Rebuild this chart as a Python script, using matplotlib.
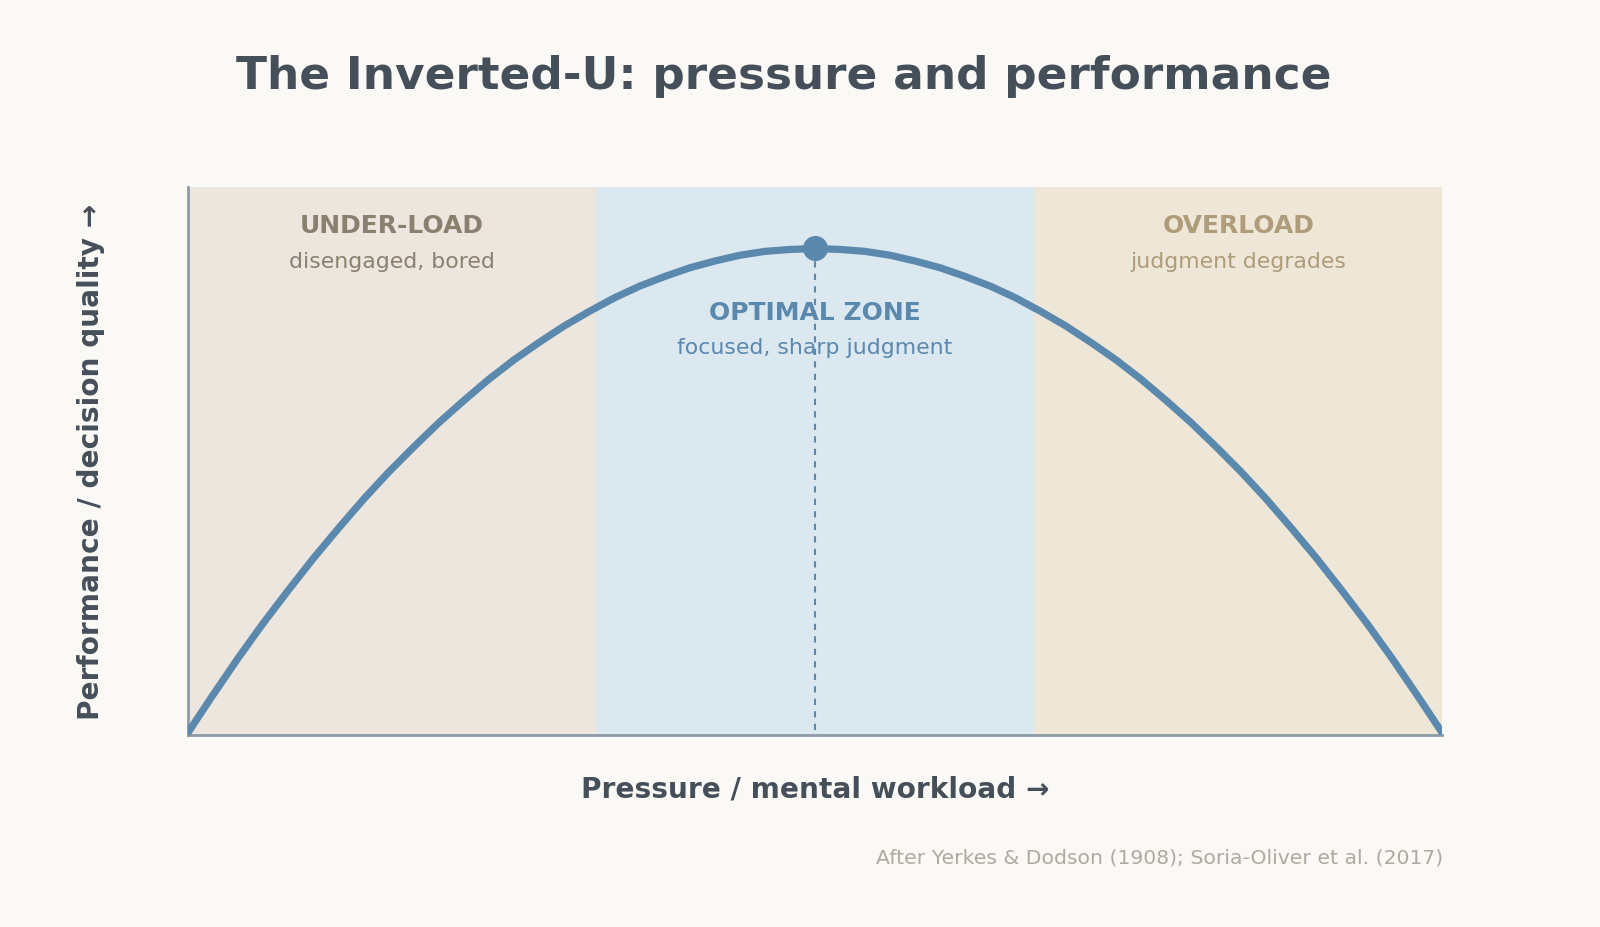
import matplotlib
matplotlib.use("Agg")
import matplotlib.pyplot as plt

# Data
pressure = [0, 2, 4, 6, 8, 10, 12, 14, 16, 18, 20, 22, 24, 26, 28, 30, 32, 34, 36, 38, 40,
            42, 44, 46, 48, 50, 52, 54, 56, 58, 60, 62, 64, 66, 68, 70, 72, 74, 76, 78, 80,
            82, 84, 86, 88, 90, 92, 94, 96, 98, 100]
performance = [0, 7.8, 15.4, 22.6, 29.4, 36, 42.2, 48.2, 53.8, 59, 64, 68.6, 73, 77, 80.6, 84,
               87, 89.8, 92.2, 94.2, 96, 97.4, 98.6, 99.4, 99.8, 100, 99.8, 99.4, 98.6, 97.4, 96,
               94.2, 92.2, 89.8, 87, 84, 80.6, 77, 73, 68.6, 64, 59, 53.8, 48.2, 42.2, 36,
               29.4, 22.6, 15.4, 7.8, 0]
zone_names = ["UNDER-LOAD", "OPTIMAL ZONE", "OVERLOAD"]
zone_notes = ["disengaged, bored", "focused, sharp judgment", "judgment degrades"]
zone_edges = [0, 32.5, 67.5, 100]
peak_x = 50
peak_y = 100

BG = "#FAF9F6"
zone_colors = ["#EDE6DE", "#DCE8F0", "#EEE7D7"]
zone_text_colors = ["#8A8070", "#5B88AD", "#AE9C7A"]
CURVE = "#5B88AD"
DARK = "#454F5A"
SPINE = "#8E9AA6"

fig = plt.figure(figsize=(16, 9.28), dpi=100, facecolor=BG)
ax = fig.add_axes([188/1600, 1-736/928, (1442-188)/1600, (736-188)/928])
ax.set_facecolor(BG)

for i in range(3):
    ax.axvspan(zone_edges[i], zone_edges[i+1], color=zone_colors[i], lw=0, zorder=0)

ax.plot(pressure, performance, color=CURVE, lw=5.2, solid_capstyle="round",
        solid_joinstyle="round", zorder=3)
ax.plot([peak_x, peak_x], [0.5, peak_y], color=CURVE, lw=1.5, ls=(0, (3, 3)), zorder=2)
ax.plot([peak_x], [peak_y], "o", color=CURVE, ms=17, zorder=4)

ax.set_xlim(0, 100)
ax.set_ylim(-0.5, 112.7)
ax.set_xticks([])
ax.set_yticks([])
for s in ["top", "right"]:
    ax.spines[s].set_visible(False)
for s in ["left", "bottom"]:
    ax.spines[s].set_color(SPINE)
    ax.spines[s].set_linewidth(2)

# zone labels
label_pos = [(0.931, 0.865), (0.772, 0.708), (0.931, 0.865)]
for i in range(3):
    cx = (zone_edges[i] + zone_edges[i+1]) / 2 / 100
    ty, sy = label_pos[i]
    ax.text(cx, ty, zone_names[i], transform=ax.transAxes, ha="center", va="center",
            fontsize=18, fontweight="bold", color=zone_text_colors[i], zorder=5)
    ax.text(cx, sy, zone_notes[i], transform=ax.transAxes, ha="center", va="center",
            fontsize=15.8, color=zone_text_colors[i], zorder=5)

fig.text(784/1600, 1-76/928, "The Inverted-U: pressure and performance", ha="center", va="center",
         fontsize=32.7, fontweight="bold", color=DARK)
fig.text(815/1600, 1-790/928, "Pressure / mental workload →", ha="center", va="center",
         fontsize=20.2, fontweight="bold", color=DARK)
fig.text(91/1600, 1-462/928, "Performance / decision quality →", ha="center", va="center",
         fontsize=20.2, fontweight="bold", color=DARK, rotation=90)
fig.text(1443/1600, 1-858/928, "After Yerkes & Dodson (1908); Soria-Oliver et al. (2017)",
         ha="right", va="center", fontsize=14.7, color="#B0A99F")

fig.savefig("out.png", dpi=100, facecolor=BG)
